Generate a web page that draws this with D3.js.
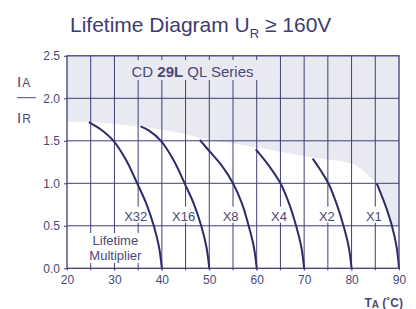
<!DOCTYPE html>
<html lang="en">
<head>
<meta charset="UTF-8">
<title>Lifetime Diagram</title>
<script src="https://cdn.jsdelivr.net/npm/d3@7"></script>
<style>
  body { margin: 0; background: #fff; }
  svg { display: block; font-family: "Liberation Sans", Arial, sans-serif; }
</style>
</head>
<body>
<div id="chart"></div>
<script>
  // tick values
  const xTicks = [20, 30, 40, 50, 60, 70, 80, 90];
  const yTicks = [0, 0.5, 1.0, 1.5, 2.0, 2.5];
  const gridTemps = [25, 30, 35, 40, 45, 50, 55, 60, 65, 70, 75, 80, 85];

  // lifetime curves (temperature in C, ratio IA/IR)
  const multipliers = ["X32", "X16", "X8", "X4", "X2", "X1"];
  const curveTemps = [
    [24.6, 27.2, 29.8, 32.4, 34.8, 36.8, 38.3, 39.4, 40.0],
    [35.5, 37.3, 39.8, 42.4, 44.8, 46.8, 48.3, 49.4, 50.0],
    [48.0, 50.0, 52.6, 55.0, 56.9, 58.3, 59.4, 60.0],
    [59.8, 62.4, 65.0, 66.9, 68.3, 69.4, 70.0],
    [71.8, 73.5, 75.1, 76.9, 78.3, 79.4, 80.0],
    [85.3, 87.0, 88.5, 89.5, 90.0]
  ];
  const curveRatios = [
    [1.72, 1.63, 1.50, 1.28, 1.00, 0.75, 0.50, 0.25, 0.00],
    [1.67, 1.62, 1.50, 1.28, 1.00, 0.75, 0.50, 0.25, 0.00],
    [1.51, 1.38, 1.21, 1.00, 0.76, 0.50, 0.25, 0.00],
    [1.40, 1.22, 1.00, 0.75, 0.50, 0.25, 0.00],
    [1.29, 1.15, 1.00, 0.75, 0.50, 0.25, 0.00],
    [1.00, 0.76, 0.50, 0.25, 0.00]
  ];
  const labelTemps = [34.5, 44.6, 54.5, 64.7, 74.8, 84.7];
  const labelRatio = 0.62;

  // edge of the grey area
  const shadeTemps = [20, 25, 30, 35, 40, 45, 48, 52, 56, 60, 65, 70, 72, 75, 78, 80.5, 82.3, 83.8, 85.3, 87.0, 88.5, 90, 90, 20];
  const shadeRatios = [1.725, 1.72, 1.70, 1.67, 1.63, 1.58, 1.53, 1.49, 1.46, 1.42, 1.37, 1.32, 1.30, 1.28, 1.26, 1.22, 1.16, 1.08, 1.00, 0.76, 0.50, 0.50, 2.5, 2.5];

  const W = 416, H = 309;
  const gridColor = "#3f3d78";
  const textColor = "#4a4878";
  const curveColor = "#2e2c68";
  const shadeColor = "#e9e9f1";

  const x = d3.scaleLinear().domain([20, 90]).range([67, 399]);
  const y = d3.scaleLinear().domain([0, 2.5]).range([268.3, 55.8]);

  const svg = d3.select("#chart").append("svg")
    .attr("width", W)
    .attr("height", H);

  // grey area
  svg.append("path")
    .datum(shadeTemps.map((t, i) => [t, shadeRatios[i]]))
    .attr("fill", shadeColor)
    .attr("d", d3.line().x(d => x(d[0])).y(d => y(d[1])));

  // grid
  const grid = svg.append("g");
  grid.selectAll("line.v")
    .data(gridTemps)
    .enter().append("line")
    .attr("class", "v")
    .attr("x1", d => x(d)).attr("x2", d => x(d))
    .attr("y1", y(2.5)).attr("y2", y(0) + 2)
    .attr("stroke", gridColor)
    .attr("stroke-width", 1);
  grid.selectAll("line.h")
    .data(yTicks.slice(1, -1))
    .enter().append("line")
    .attr("class", "h")
    .attr("x1", x(20)).attr("x2", x(90))
    .attr("y1", d => y(d)).attr("y2", d => y(d))
    .attr("stroke", gridColor)
    .attr("stroke-width", 1);

  // series box
  svg.append("rect")
    .attr("x", x(30) + 1).attr("y", 60)
    .attr("width", x(65) - x(30) - 2).attr("height", 20)
    .attr("fill", shadeColor);
  const series = svg.append("text")
    .attr("x", 131.5).attr("y", 77)
    .attr("font-size", 15)
    .attr("fill", textColor);
  series.append("tspan").text("CD ");
  series.append("tspan").attr("font-weight", "bold").text("29L");
  series.append("tspan").text(" QL Series");

  // multiplier labels
  const labels = svg.append("g");
  labels.selectAll("rect")
    .data(multipliers)
    .enter().append("rect")
    .attr("x", (d, i) => x(labelTemps[i]) - (d.length * 4 + 3))
    .attr("y", y(labelRatio) - 9)
    .attr("width", d => d.length * 8 + 6)
    .attr("height", 16)
    .attr("fill", "#fff");
  labels.selectAll("text")
    .data(multipliers)
    .enter().append("text")
    .attr("x", (d, i) => x(labelTemps[i]))
    .attr("y", y(labelRatio) + 5)
    .attr("text-anchor", "middle")
    .attr("font-size", 13)
    .attr("fill", textColor)
    .text(d => d);

  svg.append("rect")
    .attr("x", 88).attr("y", 233)
    .attr("width", 56).attr("height", 30)
    .attr("fill", "#fff");
  svg.append("text")
    .attr("x", x(30.2)).attr("y", 245)
    .attr("text-anchor", "middle")
    .attr("font-size", 13)
    .attr("fill", textColor)
    .text("Lifetime");
  svg.append("text")
    .attr("x", x(30.2)).attr("y", 260)
    .attr("text-anchor", "middle")
    .attr("font-size", 13)
    .attr("fill", textColor)
    .text("Multiplier");

  // curves
  const line = d3.line()
    .x(d => x(d[0]))
    .y(d => y(d[1]))
    .curve(d3.curveCatmullRom.alpha(0.5));
  svg.append("g")
    .selectAll("path")
    .data(curveTemps.map((ts, i) => ts.map((t, j) => [t, curveRatios[i][j]])))
    .enter().append("path")
    .attr("fill", "none")
    .attr("stroke", curveColor)
    .attr("stroke-width", 2)
    .attr("d", line);

  // frame
  svg.append("rect")
    .attr("x", x(20)).attr("y", y(2.5))
    .attr("width", x(90) - x(20)).attr("height", y(0) - y(2.5))
    .attr("fill", "none")
    .attr("stroke", gridColor)
    .attr("stroke-width", 1.3);

  // axes
  const yAxis = svg.append("g")
    .attr("transform", "translate(" + x(20) + ",0)")
    .call(d3.axisLeft(y).tickValues(yTicks).tickSize(3).tickFormat(d3.format(".1f")));
  yAxis.select(".domain").remove();
  yAxis.selectAll("line").attr("stroke", gridColor);
  yAxis.selectAll("text")
    .attr("fill", textColor)
    .attr("font-size", 12)
    .attr("font-family", "Liberation Sans, Arial, sans-serif")
    .attr("dx", "-1");

  const xAxis = svg.append("g")
    .attr("transform", "translate(0," + y(0) + ")")
    .call(d3.axisBottom(x).tickValues(xTicks).tickSize(2).tickFormat(d3.format("d")));
  xAxis.select(".domain").remove();
  xAxis.selectAll("line").attr("stroke", gridColor);
  xAxis.selectAll("text")
    .attr("fill", textColor)
    .attr("font-size", 12)
    .attr("font-family", "Liberation Sans, Arial, sans-serif")
    .attr("dy", "0.9em");

  // title
  const title = svg.append("text")
    .attr("x", 70).attr("y", 32)
    .attr("font-size", 21)
    .attr("fill", "#3e3c72");
  title.append("tspan").text("Lifetime Diagram U");
  title.append("tspan").attr("font-size", 13).attr("dy", 6).text("R");
  title.append("tspan").attr("dy", -6).text(" \u2265 160V");

  // y label
  const yl1 = svg.append("text").attr("x", 17).attr("y", 87.3).attr("fill", textColor);
  yl1.append("tspan").attr("font-size", 15).text("I");
  yl1.append("tspan").attr("font-size", 12).attr("dx", 1).text("A");
  svg.append("line")
    .attr("x1", 17).attr("x2", 36)
    .attr("y1", 97.7).attr("y2", 97.7)
    .attr("stroke", textColor).attr("stroke-width", 1);
  const yl2 = svg.append("text").attr("x", 17).attr("y", 122.7).attr("fill", textColor);
  yl2.append("tspan").attr("font-size", 15).text("I");
  yl2.append("tspan").attr("font-size", 12).attr("dx", 1).text("R");

  // x label
  const xl = svg.append("text")
    .attr("x", 403).attr("y", 307)
    .attr("text-anchor", "end")
    .attr("font-weight", "bold")
    .attr("fill", textColor);
  xl.append("tspan").attr("font-size", 12).text("T");
  xl.append("tspan").attr("font-size", 10).attr("dy", 1).text("A");
  xl.append("tspan").attr("font-size", 12).attr("dy", -1).text(" (\u02daC)");
</script>
</body>
</html>
